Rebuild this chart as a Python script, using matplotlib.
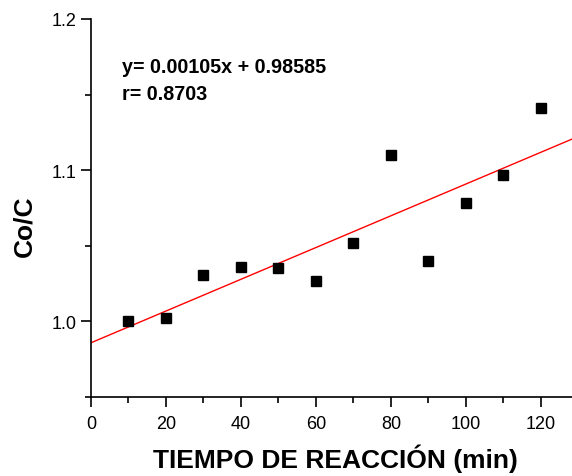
import matplotlib
matplotlib.use("Agg")
import matplotlib.pyplot as plt
from matplotlib.ticker import MultipleLocator, FormatStrFormatter
import numpy as np

plt.rcParams['font.family'] = ['Liberation Sans', 'DejaVu Sans']

# Reaction time (min) and Co/C ratio
tiempo = [10, 20, 30, 40, 50, 60, 70, 80, 90, 100, 110, 120]
co_c = [1.000, 1.002, 1.031, 1.036, 1.035, 1.027, 1.052, 1.110, 1.040, 1.078, 1.097, 1.141]

# Linear fit reported on the chart
pendiente = 0.00105
intercepto = 0.98585
r_valor = 0.8703

fig = plt.figure(figsize=(5.72, 4.77), dpi=100)
ax = fig.add_axes([0.159, 0.1656, 0.841, 0.7925])

xmin, xmax = 0, 128.3
ax.set_xlim(xmin, xmax)
ax.set_ylim(0.95, 1.2)

xs = np.array([xmin, xmax])
ax.plot(xs, pendiente * xs + intercepto, color='red', lw=1.0, zorder=2)
ax.plot(tiempo, co_c, 's', color='black', ms=7, zorder=3, clip_on=False)

ax.text(0.064, 0.875, f"y= {pendiente:.5f}x + {intercepto:.5f}", transform=ax.transAxes,
        fontsize=14.2, fontweight='bold', va='center', ha='left')
ax.text(0.064, 0.803, f"r= {r_valor:.4f}", transform=ax.transAxes,
        fontsize=14.2, fontweight='bold', va='center', ha='left')

for s in ['top', 'right']:
    ax.spines[s].set_visible(False)
for s in ['left', 'bottom']:
    ax.spines[s].set_linewidth(1.2)

ax.xaxis.set_major_locator(MultipleLocator(20))
ax.xaxis.set_minor_locator(MultipleLocator(10))
ax.yaxis.set_major_locator(MultipleLocator(0.1))
ax.yaxis.set_minor_locator(MultipleLocator(0.05))
ax.yaxis.set_major_formatter(FormatStrFormatter('%.1f'))

ax.tick_params(which='major', direction='out', length=7, width=1.2, labelsize=13)
ax.tick_params(axis='x', which='major', pad=6)
ax.tick_params(which='minor', direction='out', length=4, width=1.2)

fig.text(335 / 572, 1 - 468 / 477, "TIEMPO DE REACCIÓN (min)", fontsize=19,
         fontweight='bold', ha='center', va='baseline')
fig.text(24 / 572, 1 - 226 / 477, "Co/C", fontsize=19, fontweight='bold',
         rotation=90, ha='center', va='center')

fig.savefig("out.png", dpi=100)
